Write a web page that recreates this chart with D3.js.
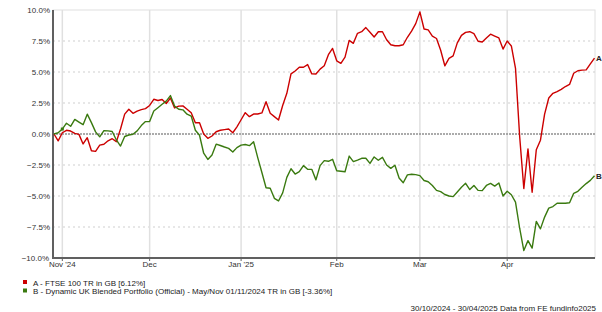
<!DOCTYPE html>
<html>
<head>
<meta charset="utf-8">
<script src="https://cdn.jsdelivr.net/npm/d3@7"></script>
<style>
  body { margin: 0; background: #fff; }
  svg { display: block; font-family: "Liberation Sans", Arial, sans-serif; }
</style>
</head>
<body>
<svg id="chart" width="602" height="312"></svg>
<script>
// one value per weekday, 30/10/2024 .. 30/04/2025 (% change)
const seriesA = [
  0.0, -0.55, 0.1, 0.3, 0.24, 0.05, -0.03, -0.8, -0.3, -1.35,
  -1.4, -0.9, -0.83, -0.55, -0.38, -0.62, 0.4, 1.6, 2.0, 1.67,
  1.85, 1.97, 2.05, 2.3, 2.8, 2.7, 2.78, 2.45, 2.9, 2.1,
  2.25, 2.27, 2.0, 1.72, 0.91, 0.91, 0.0, -0.35, -0.16, 0.18,
  0.3, 0.35, 0.4, 0.1, 0.58, 1.15, 1.72, 1.4, 1.61, 1.61,
  1.7, 2.6, 1.67, 1.4, 1.13, 2.3, 3.28, 4.85, 5.08, 5.38,
  5.38, 5.6, 4.85, 4.84, 5.23, 5.5, 6.4, 6.9, 5.9, 5.7,
  6.2, 7.55, 7.31, 8.12, 8.25, 8.58, 8.2, 7.82, 8.25, 8.25,
  7.6, 7.2, 7.12, 7.12, 7.2, 7.8, 8.3, 8.9, 9.85, 8.47,
  8.4, 7.9, 7.7, 6.75, 5.5, 6.1, 6.3, 7.35, 7.95, 8.2,
  8.25, 8.1, 7.48, 7.42, 7.74, 8.05, 7.9, 7.75, 6.85, 7.5,
  7.1, 5.3, -0.2, -4.4, -1.2, -4.7, -1.27, -0.5, 1.6, 2.9,
  3.28, 3.42, 3.6, 3.83, 4.0, 4.9, 5.1, 5.15, 5.17, 5.65,
  6.12
];
const seriesB = [
  0.0, 0.1, 0.4, 0.87, 0.62, 1.18, 0.96, 0.75, 1.6, 0.92,
  0.17, -0.23, 0.27, 0.25, 0.2, -0.48, -0.97, -0.2, -0.08, -0.02,
  0.25, 0.68, 1.0, 1.0, 1.85, 2.12, 2.4, 2.65, 3.1, 2.25,
  2.0, 1.95, 1.6, 1.45, 0.3, -0.1, -1.55, -2.05, -1.7, -0.82,
  -0.93, -1.05, -1.16, -1.45, -1.1, -0.9, -0.85, -0.94, -0.62, -1.9,
  -3.1, -4.33, -4.38, -5.19, -5.4, -4.75, -3.5, -2.8, -3.23, -3.04,
  -2.55, -2.85, -2.85, -3.7, -2.55, -2.15, -2.2, -2.04, -2.96, -3.0,
  -3.04, -1.78, -2.23, -2.1, -1.96, -1.96, -2.37, -1.85, -2.12, -1.88,
  -2.5, -2.77, -2.52, -3.55, -3.93, -3.3, -3.25, -3.28, -3.36, -3.75,
  -3.85, -4.15, -4.55, -4.65, -4.88, -5.0, -5.05, -4.68, -4.3, -3.98,
  -4.48, -4.15, -4.55, -4.57, -4.15, -3.98, -4.2, -3.95, -5.0, -4.62,
  -4.9, -5.5, -7.6, -9.4, -8.6, -9.2, -7.05, -7.65, -6.7, -5.98,
  -5.85, -5.59, -5.59, -5.59, -5.55, -4.78, -4.62, -4.3, -4.0, -3.74,
  -3.36
];
const yTicks = [10, 7.5, 5, 2.5, 0, -2.5, -5, -7.5, -10];
const monthLabels = ["Nov '24", "Dec", "Jan '25", "Feb", "Mar", "Apr"];
const legendNames = [
  "A - FTSE 100 TR in GB [6.12%]",
  "B - Dynamic UK Blended Portfolio (Official) - May/Nov 01/11/2024 TR in GB [-3.36%]"
];
const colors = ["#cc0000", "#3a7a10"];
const footer = "30/10/2024 - 30/04/2025 Data from FE fundinfo2025";

// weekday dates for the x axis
const dates = [];
for (let d = new Date(2024, 9, 30); d <= new Date(2025, 3, 30); d.setDate(d.getDate() + 1)) {
  if (d.getDay() != 0 && d.getDay() != 6) dates.push(new Date(d));
}
// first weekday of each month
const monthStarts = [];
dates.forEach((d, i) => {
  if (i > 0 && d.getMonth() != dates[i - 1].getMonth()) monthStarts.push(i);
});

const pLeft = 53, pRight = 595, pTop = 10, pBottom = 258;

const x = d3.scaleLinear().domain([0, dates.length - 1]).range([54, 594.5]);
const y = d3.scaleLinear().domain([-10, 10]).range([pBottom, pTop]);

const svg = d3.select("#chart");

// frame
svg.append("rect")
  .attr("x", pLeft).attr("y", pTop)
  .attr("width", pRight - pLeft).attr("height", pBottom - pTop)
  .attr("fill", "none").attr("stroke", "#e0e0e0").attr("stroke-width", 1);

// horizontal grid
svg.selectAll(".hgrid")
  .data(yTicks.filter(t => t != 0 && Math.abs(t) != 10))
  .join("line")
    .attr("x1", pLeft).attr("x2", pRight)
    .attr("y1", d => y(d)).attr("y2", d => y(d))
    .attr("stroke", "#cfcfcf").attr("stroke-width", 1)
    .attr("stroke-dasharray", "2,3");

// vertical grid at months
svg.selectAll(".vgrid")
  .data(monthStarts)
  .join("line")
    .attr("x1", d => x(d)).attr("x2", d => x(d))
    .attr("y1", pTop).attr("y2", pBottom)
    .attr("stroke", "#e0e0e0").attr("stroke-width", 1.5);

// zero line
svg.append("line")
  .attr("x1", pLeft).attr("x2", pRight)
  .attr("y1", y(0)).attr("y2", y(0))
  .attr("stroke", "#909090").attr("stroke-width", 1.5)
  .attr("stroke-dasharray", "2,1");

// axes lines
svg.append("line")
  .attr("x1", pLeft).attr("x2", pLeft).attr("y1", pTop).attr("y2", pBottom + 1)
  .attr("stroke", "#606060").attr("stroke-width", 2);
svg.append("line")
  .attr("x1", pLeft).attr("x2", pRight).attr("y1", pBottom).attr("y2", pBottom)
  .attr("stroke", "#606060").attr("stroke-width", 2);

// y labels
svg.selectAll(".ylab")
  .data(yTicks)
  .join("text")
    .attr("x", d => d == -10 ? 49 : 50)
    .attr("y", d => y(d) + 3)
    .attr("text-anchor", "end")
    .attr("font-size", 8)
    .attr("fill", "#333")
    .text(d => d3.format(".1f")(d) + "%");

// x ticks and labels
svg.selectAll(".xtick")
  .data(monthStarts)
  .join("line")
    .attr("x1", d => x(d)).attr("x2", d => x(d))
    .attr("y1", pBottom).attr("y2", pBottom + 3)
    .attr("stroke", "#606060");
svg.selectAll(".xlab")
  .data(monthStarts)
  .join("text")
    .attr("x", d => x(d))
    .attr("y", pBottom + 9)
    .attr("text-anchor", "middle")
    .attr("font-size", 8)
    .attr("fill", "#333")
    .text((d, i) => monthLabels[i]);

// lines
const line = d3.line().x((d, i) => x(i)).y(d => y(d));
[seriesA, seriesB].forEach((s, k) => {
  svg.append("path")
    .datum(s)
    .attr("d", line)
    .attr("fill", "none")
    .attr("stroke", colors[k])
    .attr("stroke-width", 1.4)
    .attr("stroke-linejoin", "round");
});

// launch marker on B
svg.append("rect")
  .attr("x", x(2) - 1.5).attr("y", y(seriesB[2]) - 1.5)
  .attr("width", 3).attr("height", 3)
  .attr("fill", colors[1]);

// end labels
["A", "B"].forEach((lab, k) => {
  const s = k == 0 ? seriesA : seriesB;
  svg.append("text")
    .attr("x", 596)
    .attr("y", y(s[s.length - 1]) + 3)
    .attr("font-size", 8)
    .attr("font-weight", "bold")
    .attr("fill", "#222")
    .text(lab);
});

// legend
legendNames.forEach((name, k) => {
  svg.append("rect")
    .attr("x", 23).attr("y", 280 + k * 8.5)
    .attr("width", 4).attr("height", 4)
    .attr("fill", colors[k]);
  svg.append("text")
    .attr("x", 33).attr("y", 285.5 + k * 8.5)
    .attr("font-size", 8)
    .attr("fill", "#222")
    .text(name);
});

svg.append("text")
  .attr("x", 596).attr("y", 311)
  .attr("text-anchor", "end")
  .attr("font-size", 8)
  .attr("fill", "#222")
  .text(footer);
</script>
</body>
</html>
